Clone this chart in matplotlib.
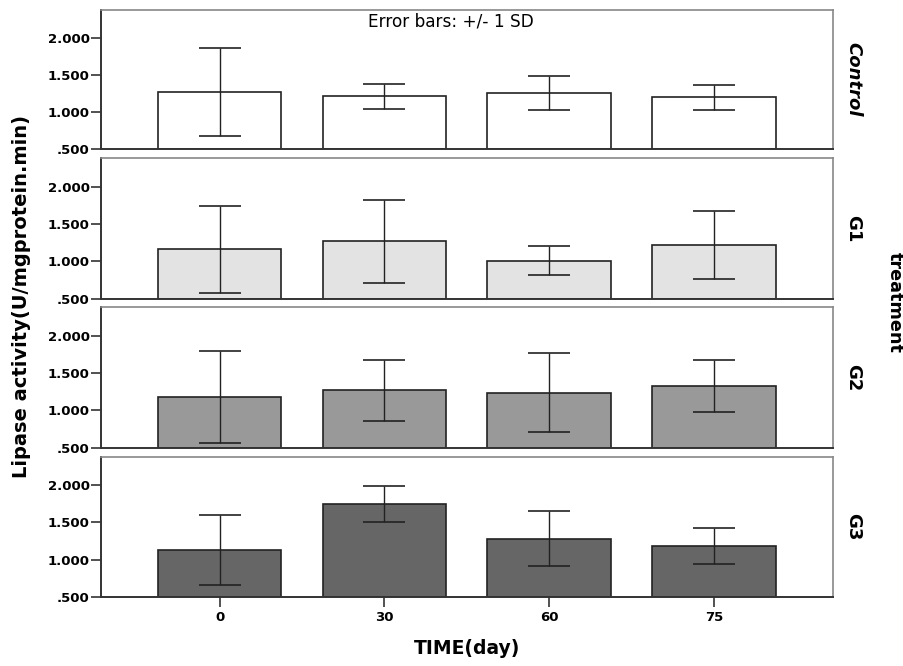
import matplotlib
matplotlib.use("Agg")
import matplotlib.pyplot as plt
import numpy as np

# Data
times = ["0", "30", "60", "75"]
groups = ["Control", "G1", "G2", "G3"]
control_mean = [1.27, 1.21, 1.26, 1.20]
control_sd = [0.59, 0.167, 0.23, 0.17]
g1_mean = [1.16, 1.27, 1.01, 1.22]
g1_sd = [0.59, 0.56, 0.19, 0.46]
g2_mean = [1.18, 1.27, 1.24, 1.33]
g2_sd = [0.62, 0.41, 0.53, 0.345]
g3_mean = [1.13, 1.75, 1.28, 1.18]
g3_sd = [0.47, 0.245, 0.37, 0.245]
yticks = [0.5, 1.0, 1.5, 2.0]
ytick_labels = [".500", "1.000", "1.500", "2.000"]

means = [control_mean, g1_mean, g2_mean, g3_mean]
sds = [control_sd, g1_sd, g2_sd, g3_sd]
colors = ["#ffffff", "#e3e3e3", "#999999", "#666666"]

W, H = 904, 666
fig = plt.figure(figsize=(W / 100, H / 100), dpi=100)

left = 100.7 / W
width = (832.7 - 100.7) / W
tops = [9.5, 158.3, 307.3, 456.7]
bottoms = [149.0, 298.5, 447.7, 596.7]

x = np.arange(len(times))
tick_font = dict(family="DejaVu Sans", weight="bold", size=9.5)

for i, g in enumerate(groups):
    ax = fig.add_axes([left, 1 - bottoms[i] / H, width, (bottoms[i] - tops[i]) / H])
    ax.bar(x, [m - 0.5 for m in means[i]], bottom=0.5, width=0.75,
           color=colors[i], edgecolor="#222222", linewidth=1.2, zorder=2)
    ax.errorbar(x, means[i], yerr=sds[i], fmt="none", ecolor="#222222",
                elinewidth=1.0, capsize=14.8, capthick=1.2, zorder=3)
    ax.set_xlim(-0.722, 3.72)
    ax.set_ylim(0.5, 2.385)
    ax.set_yticks(yticks)
    ax.set_yticklabels(ytick_labels, fontdict=tick_font)
    ax.tick_params(axis="y", direction="out", length=7.5, width=1.2, color="#333333", pad=0.5)
    for s in ["top", "right"]:
        ax.spines[s].set_color("#888888")
        ax.spines[s].set_linewidth(1.2)
    for s in ["left", "bottom"]:
        ax.spines[s].set_color("#333333")
        ax.spines[s].set_linewidth(1.4)
    ax.set_xticks(x)
    if i == 3:
        ax.set_xticklabels(times, fontdict=tick_font)
        ax.tick_params(axis="x", direction="out", length=7.5, width=1.2, color="#333333", pad=3)
    else:
        ax.tick_params(axis="x", length=0, labelbottom=False)
    ax.text(1.016, 0.5, g, transform=ax.transAxes, rotation=-90,
            ha="left", va="center", family="DejaVu Sans", weight="bold",
            style="oblique" if g == "Control" else "normal", size=13)
    if i == 0:
        ax.text(0.479, 0.98, "Error bars: +/- 1 SD", transform=ax.transAxes,
                ha="center", va="top", family="DejaVu Sans", size=12.2)

fig.text(22 / W, 1 - 296 / H, "Lipase activity(U/mgprotein.min)", rotation=90,
         ha="center", va="center", family="DejaVu Sans", weight="bold", size=14)
fig.text(467 / W, 1 - 648 / H, "TIME(day)", ha="center", va="center",
         family="DejaVu Sans", weight="bold", size=13.5)
fig.text(895 / W, 1 - 302 / H, "treatment", rotation=-90, ha="center", va="center",
         family="DejaVu Sans", weight="bold", size=12.7)

fig.savefig("out.png", dpi=100)
